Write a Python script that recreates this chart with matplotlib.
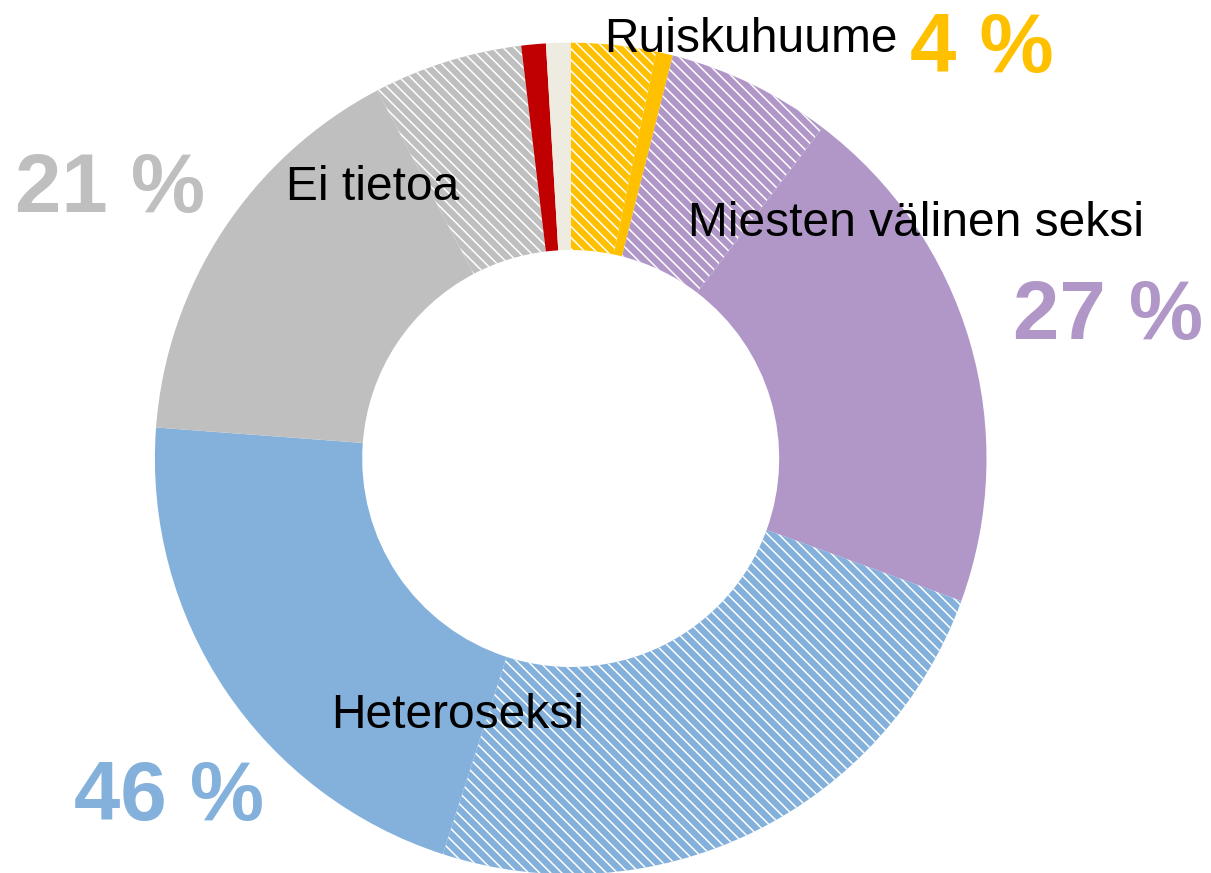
import matplotlib
matplotlib.use('Agg')
import matplotlib.pyplot as plt

plt.rcParams['font.family'] = ['Liberation Sans', 'DejaVu Sans']
plt.rcParams['hatch.linewidth'] = 1.1

# slices clockwise from 12 o'clock, shares in percent
slice_names = ['Ruiskuhuume (a)', 'Ruiskuhuume (b)',
               'Miesten välinen seksi (a)', 'Miesten välinen seksi (b)',
               'Heteroseksi (a)', 'Heteroseksi (b)',
               'Ei tietoa (a)', 'Ei tietoa (b)',
               'Muu 1', 'Muu 2']
slice_values = [3.3, 0.65, 6.4, 20.2, 24.4, 21.2, 16.1, 5.8, 0.95, 0.95]
slice_colors = ['#FFC000', '#FFC000', '#B097C8', '#B097C8', '#84B1DB',
                '#84B1DB', '#BFBFBF', '#BFBFBF', '#C00000', '#EEECE1']
slice_hatched = [True, False, True, False, True, False, False, True, False, False]

# group labels and totals
group_names = ['Ruiskuhuume', 'Miesten välinen seksi', 'Heteroseksi', 'Ei tietoa']
group_pct = ['4 %', '27 %', '46 %', '21 %']
group_colors = ['#FFC000', '#B097C8', '#84B1DB', '#BFBFBF']

W, H = 1211, 873
fig = plt.figure(figsize=(W / 100, H / 100), dpi=100)
ax = fig.add_axes([0, 0, 1, 1])
ax.set_xlim(0, W)
ax.set_ylim(0, H)
ax.set_aspect('equal')
ax.axis('off')

cx, cy = 570.7, H - 458.5
r_out, r_in = 415.8, 208.5

wedges, _ = ax.pie(slice_values, colors=slice_colors, startangle=90,
                   counterclock=False, center=(cx, cy), radius=r_out,
                   wedgeprops=dict(width=r_out - r_in, linewidth=0))
for w, c, h in zip(wedges, slice_colors, slice_hatched):
    if h:
        w.set_hatch('\\\\\\')
        w.set_edgecolor('white')
    else:
        w.set_edgecolor(c)
    w.set_linewidth(0)

ax.set_xlim(0, W)
ax.set_ylim(0, H)

# label placement (left x, baseline y in image pixels)
name_pos = [(604, 51.7), (688, 236), (331, 728), (286, 200)]
pct_pos = [(910, 71.7), (1013, 339), (74, 820), (15, 211.7)]

for name, (x, y) in zip(group_names, name_pos):
    ax.text(x, H - y, name, fontsize=34.5, color='black',
            ha='left', va='baseline', zorder=5)
for pct, col, (x, y) in zip(group_pct, group_colors, pct_pos):
    ax.text(x, H - y, pct, fontsize=60, fontweight='bold', color=col,
            ha='left', va='baseline', zorder=5)

fig.savefig('out.png', dpi=100)
plt.close(fig)
